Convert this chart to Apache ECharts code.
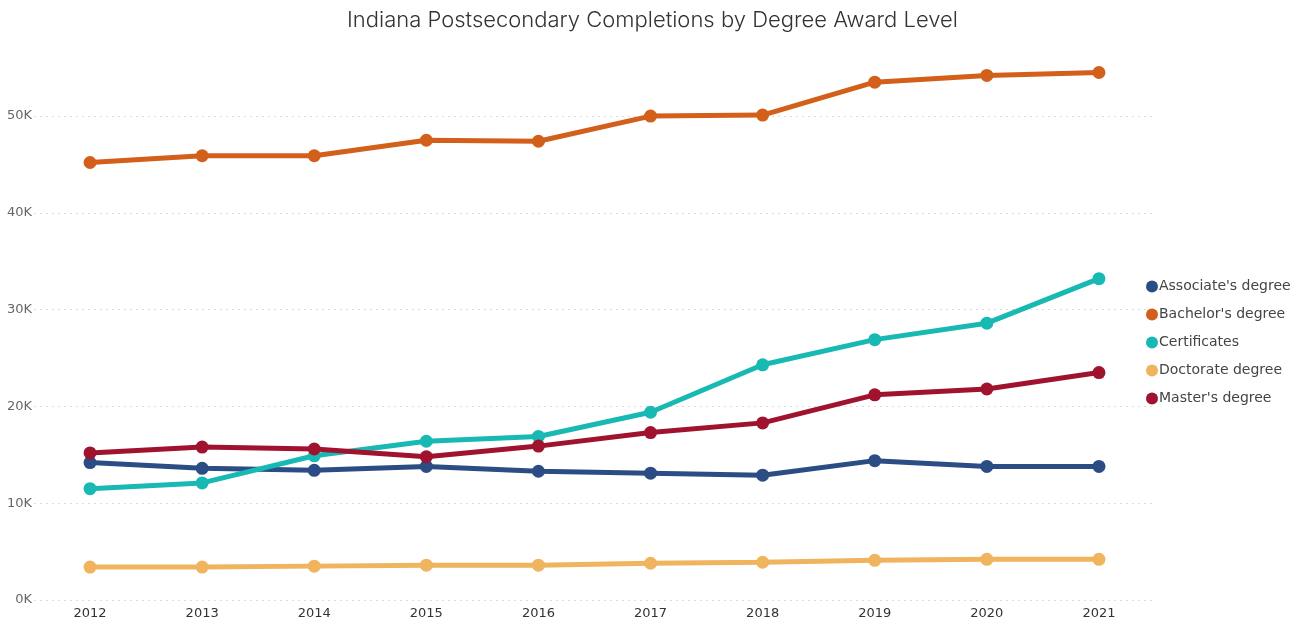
<!DOCTYPE html>
<html>
<head>
<meta charset="utf-8">
<script src="https://cdn.jsdelivr.net/npm/echarts@6/dist/echarts.min.js"></script>
<style>
  html, body { margin: 0; padding: 0; background: #fff; }
  #chart { width: 1305px; height: 624px; }
</style>
</head>
<body>
<div id="chart"></div>
<script>
  // data
  const years = ['2012', '2013', '2014', '2015', '2016', '2017', '2018', '2019', '2020', '2021'];
  const associate = [14200, 13600, 13400, 13800, 13300, 13100, 12900, 14400, 13800, 13800];
  const bachelor = [45200, 45900, 45900, 47500, 47400, 50000, 50100, 53500, 54200, 54500];
  const certificates = [11500, 12100, 14900, 16400, 16900, 19400, 24300, 26900, 28600, 33200];
  const doctorate = [3400, 3400, 3500, 3600, 3600, 3800, 3900, 4100, 4200, 4200];
  const master = [15200, 15800, 15600, 14800, 15900, 17300, 18300, 21200, 21800, 23500];

  const names = ["Associate's degree", "Bachelor's degree", 'Certificates', 'Doctorate degree', "Master's degree"];
  const colors = ['#2b4c84', '#d2601a', '#19b9b3', '#f0b35e', '#a0132f'];
  const values = [associate, bachelor, certificates, doctorate, master];

  let myChart = echarts.init(document.getElementById('chart'));
  let option = {
    color: colors,
    title: {
      text: 'Indiana Postsecondary Completions by Degree Award Level',
      left: 'center',
      top: 4,
      textStyle: {
        fontFamily: 'Inter',
        fontWeight: 300,
        fontSize: 22,
        color: '#333'
      }
    },
    legend: {
      orient: 'vertical',
      left: 1141,
      top: 273,
      itemGap: 11,
      icon: 'circle',
      itemWidth: 12,
      itemHeight: 12,
      textStyle: {
        fontFamily: 'DejaVu Sans',
        fontSize: 14,
        lineHeight: 17,
        color: '#444',
        padding: [0, 0, 0, -4]
      },
      data: names
    },
    grid: {
      left: 34,
      top: 58,
      width: 1121,
      height: 542
    },
    xAxis: {
      type: 'category',
      data: years,
      boundaryGap: true,
      axisLine: { show: false },
      axisTick: { show: false },
      axisLabel: {
        margin: 7,
        fontFamily: 'DejaVu Sans',
        fontSize: 13,
        color: '#333'
      }
    },
    yAxis: {
      type: 'value',
      min: 0,
      max: 56000,
      interval: 10000,
      axisLabel: {
        showMaxLabel: false,
        margin: 2,
        fontFamily: 'DejaVu Sans',
        fontSize: 13,
        color: '#666',
        formatter: function (v) { return (v / 1000) + 'K'; }
      },
      splitLine: {
        showMaxLine: false,
        lineStyle: { color: '#dcdcdc', type: [2, 4], width: 1 }
      }
    },
    series: values.map(function (d, i) {
      return {
        name: names[i],
        type: 'line',
        data: d,
        symbol: 'circle',
        symbolSize: 13,
        lineStyle: { width: 5 },
        emphasis: { disabled: true },
        clip: false
      };
    })
  };
  myChart.setOption(option);
</script>
</body>
</html>
